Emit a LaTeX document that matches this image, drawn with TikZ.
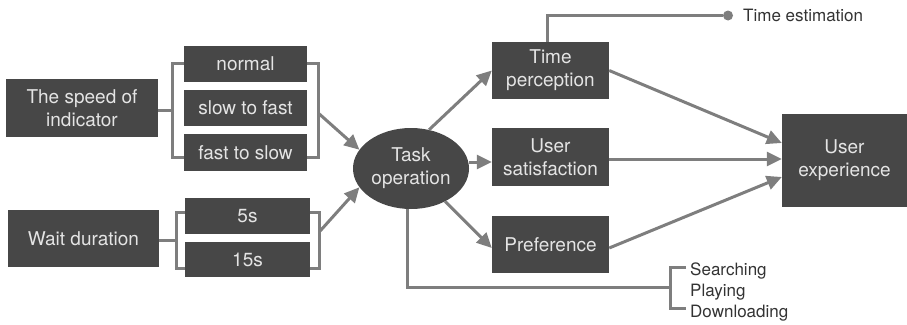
\documentclass[tikz,border=0pt]{standalone}
\usepackage{fontspec}
\setmainfont{TeX Gyre Heros}
\usetikzlibrary{arrows.meta,shapes.geometric}
\definecolor{boxc}{HTML}{474747}
\definecolor{txtc}{HTML}{E4E4E4}
\definecolor{linec}{HTML}{7E7E7E}
\definecolor{lblc}{HTML}{333333}
\begin{document}
\begin{tikzpicture}[x=1pt,y=-1pt,
  box/.style={fill=boxc,text=txtc,inner sep=0pt,align=center,font=\fontsize{19}{23}\selectfont},
  ln/.style={draw=linec,line width=3pt},
  arr/.style={ln,-{Triangle[length=15pt,width=14pt]}},
  lbl/.style={font=\fontsize{17}{20}\selectfont,text=lblc,inner sep=0pt}]
\useasboundingbox (0,0) rectangle (907,324);

% left boxes
\node[box,minimum width=152pt,minimum height=58pt] (speed) at (82,108) {The speed of\\indicator};
\node[box,minimum width=123pt,minimum height=36pt] (normal) at (245.5,64) {normal};
\node[box,minimum width=123pt,minimum height=36pt] (s2f) at (245.5,108) {slow to fast};
\node[box,minimum width=123pt,minimum height=37pt] (f2s) at (245.5,152.5) {fast to slow};
\node[box,minimum width=151pt,minimum height=57pt] (wait) at (83.5,238.5) {Wait duration};
\node[box,minimum width=125pt,minimum height=36pt] (s5) at (247.5,216) {5s};
\node[box,minimum width=125pt,minimum height=35pt] (s15) at (247.5,259.5) {15s};

% centre
\node[box,ellipse,inner xsep=-10pt,minimum width=116pt,minimum height=81pt] (task) at (411,168.5) {Task\\operation};

% middle boxes
\node[box,minimum width=117pt,minimum height=57pt] (tp) at (550.5,70.5) {Time\\perception};
\node[box,minimum width=117pt,minimum height=58pt] (us) at (550.5,157) {User\\satisfaction};
\node[box,minimum width=117pt,minimum height=57pt] (pref) at (550.5,244.5) {Preference};
\node[box,minimum width=125pt,minimum height=93pt] (ux) at (844.5,160.5) {User\\experience};

% time estimation
\node[circle,fill=linec,inner sep=0pt,minimum size=10pt] (dot) at (728,15.5) {};
\node[lbl,anchor=base west] (te) at (743,21) {Time estimation};

% bottom labels
\coordinate (brk) at (670,287);
\node[lbl,anchor=base west] (srch) at (690,275) {Searching};
\node[lbl,anchor=base west] (play) at (690,296.5) {Playing};
\node[lbl,anchor=base west] (down) at (690,317) {Downloading};

% brackets speed
\draw[ln] ([yshift=-2pt]speed.east) -- ++(15,0);
\draw[ln] ([yshift=1pt]normal.west) -- ++(-11,0) |- ([yshift=-4.5pt]f2s.west);
\draw[ln] ([yshift=1pt]normal.east) -- ++(11,0) |- ([yshift=-4.5pt]f2s.east);
% brackets wait
\draw[ln] ([yshift=-1.5pt]wait.east) -- ++(18,0);
\draw[ln] ([yshift=4pt]s5.west) -- ++(-8,0) |- ([yshift=-8.5pt]s15.west);
\draw[ln] ([yshift=4pt]s5.east) -- ++(9,0) |- ([yshift=-8.5pt]s15.east);

% arrows into task
\draw[arr] ([xshift=11pt,yshift=-5pt]s2f.east) -- (task.160);
\draw[arr] ([xshift=9pt,yshift=-16pt]s5.east) -- (task.200);

% arrows out of task
\draw[arr] (task.65) -- (tp.west);
\draw[arr] ([yshift=6.5pt]task.east) -- ([yshift=-5pt]us.west);
\draw[arr] (task.316) -- ([yshift=-3.5pt]pref.west);

% arrows into ux
\draw[arr] (tp.east) -- ([yshift=17.5pt]ux.west);
\draw[arr] ([yshift=-2pt]us.east) -- ([yshift=1.5pt]ux.west);
\draw[arr] ([yshift=-3.5pt]pref.east) -- ([yshift=-16.5pt]ux.west);

% time estimation line
\draw[ln] ([xshift=-3.5pt]tp.north) |- (dot);

% bottom line and bracket
\draw[ln] ([xshift=-4pt]task.south) |- (brk);
\draw[ln] (686,267) -- (670,267) -- (670,308) -- (686,308);
\end{tikzpicture}
\end{document}
